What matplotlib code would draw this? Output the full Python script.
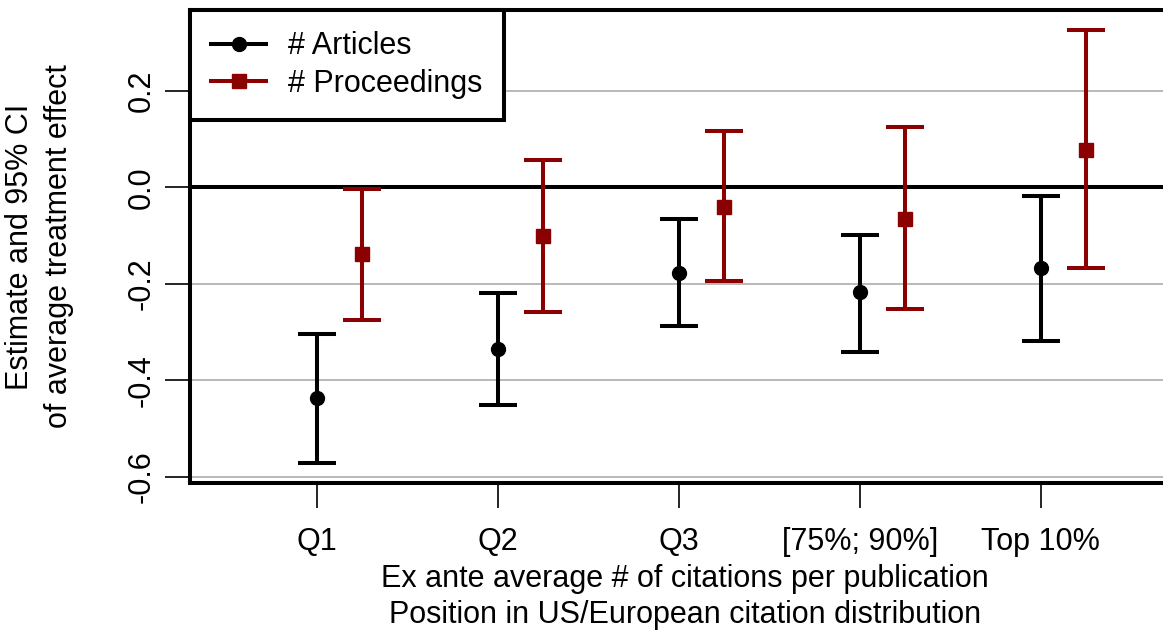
import matplotlib
matplotlib.use("Agg")
import matplotlib.pyplot as plt

plt.rcParams["font.family"] = ["Liberation Sans", "DejaVu Sans"]

groups = ["Q1", "Q2", "Q3", "[75%; 90%]", "Top 10%"]

art_est = [-0.437, -0.336, -0.177, -0.218, -0.168]
art_lo  = [-0.571, -0.451, -0.288, -0.342, -0.319]
art_hi  = [-0.303, -0.220, -0.065, -0.098, -0.018]

proc_est = [-0.139, -0.102, -0.040, -0.065, 0.077]
proc_lo  = [-0.274, -0.259, -0.195, -0.253, -0.168]
proc_hi  = [-0.003, 0.057, 0.117, 0.125, 0.325]

RED = "#8B0000"
GRID = "#b3b3b3"
FS = 22
LW = 2.9

W, H = 1163, 633
fig = plt.figure(figsize=(W / 100, H / 100), dpi=100)
ax = fig.add_axes([190 / W, (H - 483) / H, (1180 - 190) / W, (483 - 10) / H])

x = list(range(1, len(groups) + 1))
xp = [v + 0.25 for v in x]

for yv in [0.2, -0.2, -0.4, -0.6]:
    ax.axhline(yv, color=GRID, lw=1.3, zorder=0)
ax.axhline(0, color="black", lw=LW, zorder=1)

def err(est, lo, hi):
    return [[e - l for e, l in zip(est, lo)], [h - e for e, h in zip(est, hi)]]

ax.errorbar(x, art_est, yerr=err(art_est, art_lo, art_hi), fmt="o", color="black",
            ms=10, elinewidth=LW, capsize=14, capthick=LW, zorder=3)
ax.errorbar(xp, proc_est, yerr=err(proc_est, proc_lo, proc_hi), fmt="s", color=RED,
            ms=10, elinewidth=LW, capsize=14, capthick=LW, zorder=3)

ax.set_xlim(0.30, 0.30 + (1180 - 190) / 181)
ax.set_ylim(-0.6125, 0.367)

for s in ["left", "bottom", "top"]:
    ax.spines[s].set_linewidth(LW)
ax.spines["right"].set_visible(False)

ax.set_xticks(x)
ax.set_xticklabels(groups, fontsize=FS)
ax.set_yticks([-0.6, -0.4, -0.2, 0.0, 0.2])
ax.set_yticklabels(["-0.6", "-0.4", "-0.2", "0.0", "0.2"], fontsize=FS, rotation=90, va="center")
ax.tick_params(axis="both", length=18, width=1.2, direction="out")
ax.tick_params(axis="x", pad=14)
ax.tick_params(axis="y", pad=6)

ax.set_xlabel("Ex ante average # of citations per publication\nPosition in US/European citation distribution",
              fontsize=FS, labelpad=5, linespacing=1.25)
ax.set_ylabel("Estimate and 95% CI\nof average treatment effect", fontsize=FS, labelpad=38, linespacing=1.4)

h1, = ax.plot([], [], color="black", marker="o", lw=LW, ms=10)
h2, = ax.plot([], [], color=RED, marker="s", lw=LW, ms=10)
leg = ax.legend([h1, h2], ["# Articles", "# Proceedings"], loc="upper left", bbox_to_anchor=(0, 1),
                borderaxespad=0, fancybox=False, framealpha=1, edgecolor="black",
                fontsize=FS, handlelength=1.8, handletextpad=0.7, borderpad=0.7, labelspacing=0.25)
leg.get_frame().set_linewidth(LW)

fig.savefig("out.png", dpi=100)
